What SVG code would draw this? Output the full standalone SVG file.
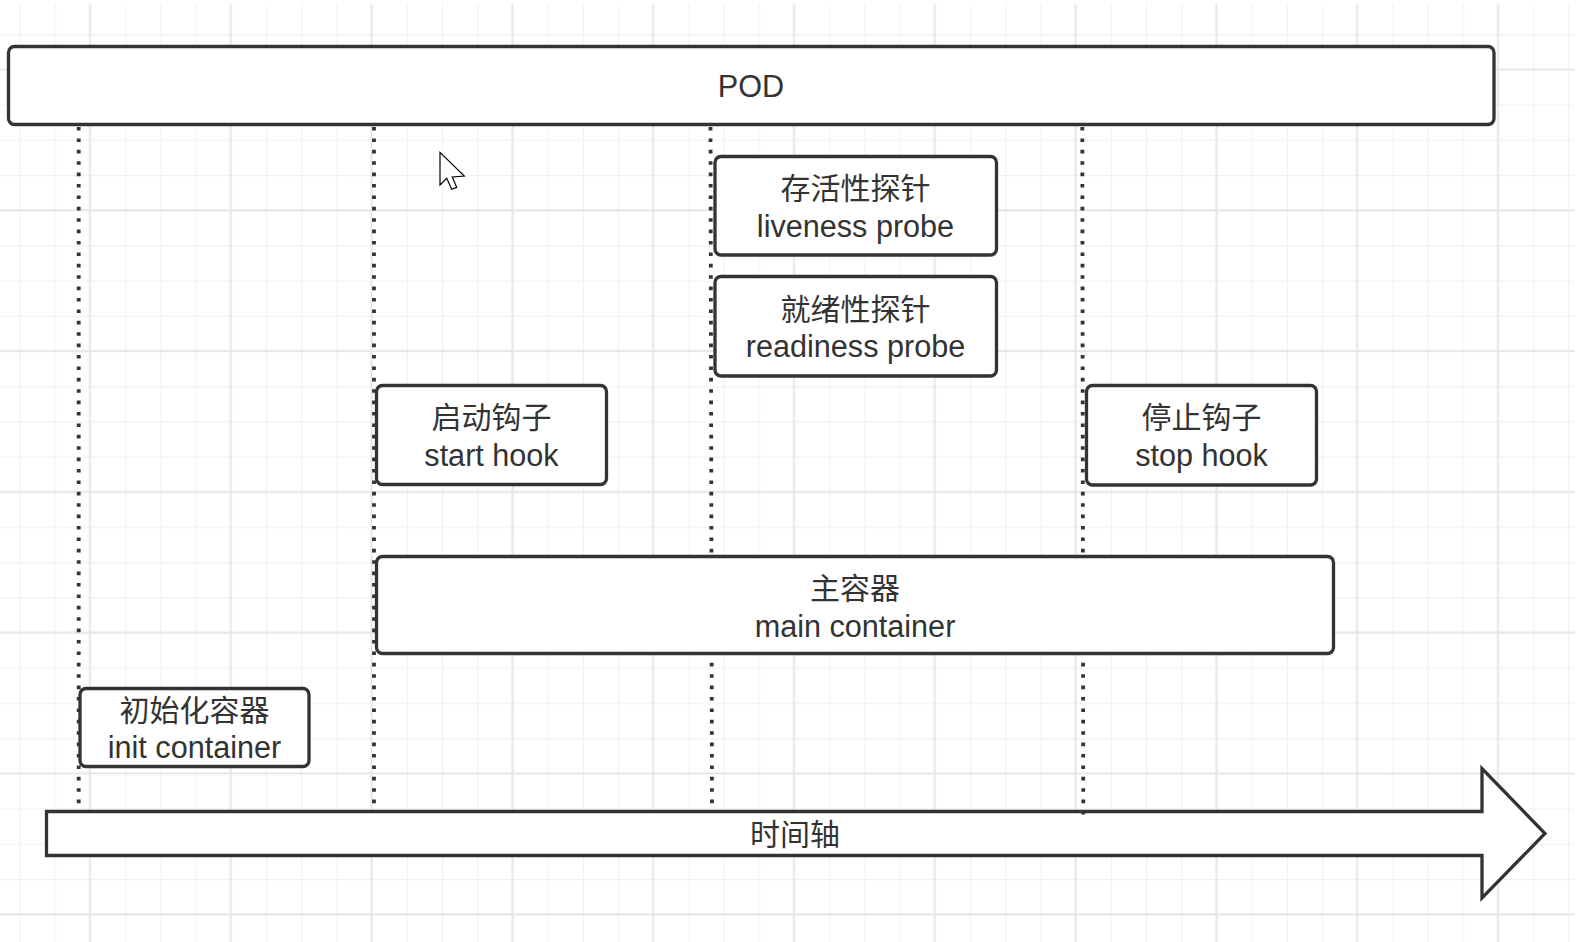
<svg xmlns="http://www.w3.org/2000/svg" width="1589" height="942" viewBox="0 0 1589 942">
<defs>
<style>
.gmin{stroke:#efefef;stroke-width:1;fill:none}
.gmaj{stroke:#e5e5e5;stroke-width:2;fill:none}
.box{fill:#ffffff;stroke:#333333;stroke-width:3.3}
.dot{stroke:#333333;stroke-width:3.8;stroke-dasharray:3.6 7.8;fill:none}
.t{font-family:"Liberation Sans","Noto Sans CJK SC",sans-serif;font-size:30px;fill:#333333;text-anchor:middle}
.l{font-size:30.6px}
</style>
<pattern id="grid" x="19.6" y="34.3" width="140.8" height="140.8" patternUnits="userSpaceOnUse">
<path class="gmin" d="M0.5 0V140.8M35.7 0V140.8M106.1 0V140.8M0 0.5H140.8M0 71H140.8M0 106.1H140.8"/>
<path class="gmaj" d="M70.4 0V140.8M0 35.2H140.8"/>
</pattern>
</defs>
<rect x="0" y="0" width="1589" height="942" fill="#ffffff"/>
<rect x="0" y="4" width="1575" height="938" fill="url(#grid)"/>

<g id="axis">
<polygon class="box" stroke-linejoin="miter" points="46.5,811.5 1482,811.5 1482,768.5 1545,833.5 1482,898 1482,855.5 46.5,855.5"/>
<text class="t" x="795" y="845">时间轴</text>
</g>

<g id="connectors">
<line class="dot" x1="78.7" y1="127" x2="78.7" y2="811"/>
<line class="dot" x1="374" y1="127" x2="374" y2="811"/>
<line class="dot" x1="710.5" y1="127" x2="712" y2="811"/>
<line class="dot" x1="1082.3" y1="127" x2="1083.3" y2="818"/>
</g>

<g id="pod">
<rect class="box" x="8.5" y="46.5" width="1485.5" height="78" rx="6"/>
<text class="t l" x="751" y="97">POD</text>
</g>

<g id="liveness">
<rect class="box" x="715" y="156.5" width="281.5" height="98.5" rx="6"/>
<text class="t" x="855.5" y="199">存活性探针</text>
<text class="t l" x="855.5" y="236.5">liveness probe</text>
</g>

<g id="readiness">
<rect class="box" x="715" y="276.5" width="281.5" height="99.5" rx="6"/>
<text class="t" x="855.5" y="319.5">就绪性探针</text>
<text class="t l" x="855.5" y="356.5">readiness probe</text>
</g>

<g id="start-hook">
<rect class="box" x="376.5" y="385.5" width="230" height="99" rx="6"/>
<text class="t" x="491.5" y="428">启动钩子</text>
<text class="t l" x="491.5" y="465.5">start hook</text>
</g>

<g id="stop-hook">
<rect class="box" x="1086.5" y="385.5" width="230" height="99.5" rx="6"/>
<text class="t" x="1201.5" y="428">停止钩子</text>
<text class="t l" x="1201.5" y="465.5">stop hook</text>
</g>

<g id="main-container">
<rect class="box" x="376.5" y="556.5" width="957" height="97" rx="6"/>
<text class="t" x="855" y="599">主容器</text>
<text class="t l" x="855" y="636.5">main container</text>
</g>

<g id="init-container">
<rect class="box" x="80" y="688.5" width="229" height="78" rx="6"/>
<text class="t" x="194.5" y="720.5">初始化容器</text>
<text class="t l" x="194.5" y="758">init container</text>
</g>

<g id="cursor">
<polygon points="440,152.3 440,185 446.7,178.3 451.7,189.3 456.7,187.3 452.3,177 464.3,176" fill="#ffffff" stroke="#000000" stroke-width="1.2" stroke-linejoin="miter"/>
</g>
</svg>
